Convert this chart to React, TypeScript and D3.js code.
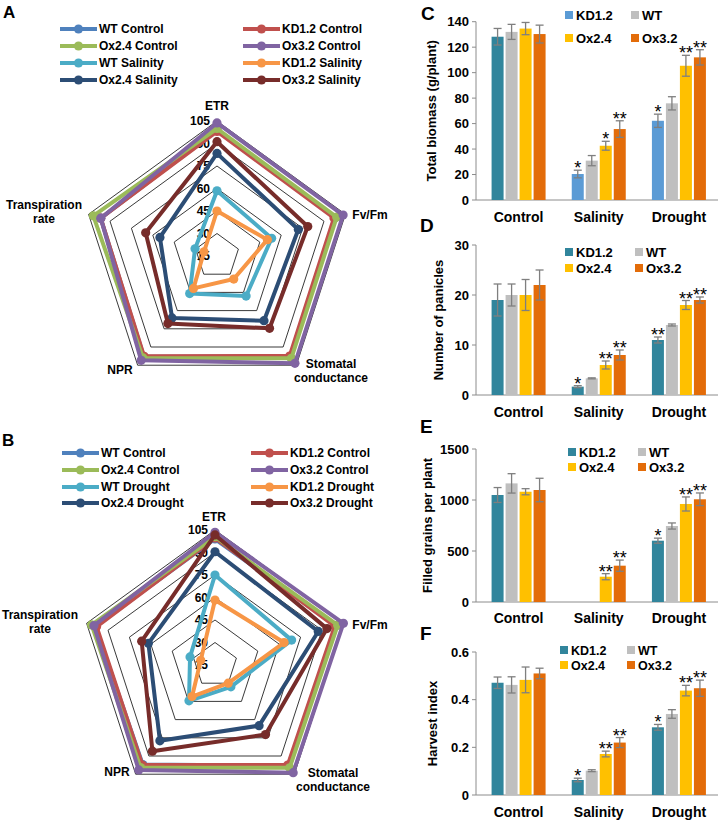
import React from 'react';
import * as d3 from 'd3';

// ---------- Radar data ----------
const radarAxes = ['ETR', 'Fv/Fm', 'Stomatal conductance', 'NPR', 'Transpiration rate'];
const radarTicks = [15, 30, 45, 60, 75, 90, 105];
const radarColors = ['#4F81BD', '#C0504D', '#9BBB59', '#8064A2', '#4BACC6', '#F79646', '#2C4D75', '#772C2A'];

const namesA = ['WT Control', 'KD1.2 Control', 'Ox2.4 Control', 'Ox3.2 Control', 'WT Salinity', 'KD1.2 Salinity', 'Ox2.4 Salinity', 'Ox3.2 Salinity'];
const aWTControl = [99, 98, 98, 98, 96.5];
const aKDControl = [98, 97, 97.4, 97.7, 96.5];
const aOx24Control = [100, 98.9, 99.3, 99, 101.7];
const aOx32Control = [103.7, 103.4, 103.4, 101, 96.5];
const aWTSalinity = [58.5, 53.3, 48, 46, 30.4];
const aKDSalinity = [45, 50.3, 34, 41.7, 24.1];
const aOx24Salinity = [83.4, 72, 68.3, 66, 55];
const aOx32Salinity = [91.2, 78.6, 74.6, 70.7, 65];

const namesB = ['WT Control', 'KD1.2 Control', 'Ox2.4 Control', 'Ox3.2 Control', 'WT Drought', 'KD1.2 Drought', 'Ox2.4 Drought', 'Ox3.2 Drought'];
const bWTControl = [99, 100, 98, 97, 99];
const bKDControl = [99.7, 99, 97.5, 97.4, 98];
const bOx24Control = [100.5, 101, 99.7, 99.5, 101.5];
const bOx32Control = [103.5, 105, 103.7, 101.5, 99.9];
const bWTDrought = [75, 68.7, 33, 44.5, 32.5];
const bKDDrought = [58.3, 63.4, 30, 41, 25];
const bOx24Drought = [90.5, 87.4, 65, 77.5, 61.7];
const bOx32Drought = [101.7, 93.5, 72.3, 86, 66.4];

// ---------- Bar data ----------
const groups = ['Control', 'Salinity', 'Drought'];
const lines = ['KD1.2', 'WT', 'Ox2.4', 'Ox3.2'];
const barColors = ['#31859C', '#BFBFBF', '#FFC000', '#E36C09'];
const kdLightColor = '#5B9BD5';

const cKD = [128.2, 20.4, 62.2];
const cKDErr = [6.5, 3, 5.2];
const cWT = [132, 30.9, 75.9];
const cWTErr = [5.9, 4, 5.2];
const cOx24 = [134.6, 42.6, 105.4];
const cOx24Err = [4.8, 3.5, 8.2];
const cOx32 = [130.3, 55.7, 112];
const cOx32Err = [7, 6.5, 6];
const cStars = [['', '*', '*'], ['', '', ''], ['', '*', '**'], ['', '**', '**']];
const cTicks = [0, 20, 40, 60, 80, 100, 120, 140];

const dKD = [19, 1.67, 11];
const dKDErr = [3.2, 0.2, 0.6];
const dWT = [20, 3.33, 14];
const dWTErr = [2.2, 0.1, 0.2];
const dOx24 = [20, 6, 18];
const dOx24Err = [3.1, 0.8, 0.9];
const dOx32 = [22, 8, 19];
const dOx32Err = [3, 1, 0.6];
const dStars = [['', '*', '**'], ['', '', ''], ['', '**', '**'], ['', '**', '**']];
const dTicks = [0, 10, 20, 30];

const eKD = [1049, 0, 601];
const eKDErr = [73, 0, 25];
const eWT = [1163, 0, 745];
const eWTErr = [95, 0, 30];
const eOx24 = [1081, 248, 961];
const eOx24Err = [30, 30, 69];
const eOx32 = [1098, 356, 1007];
const eOx32Err = [115, 55, 62];
const eStars = [['', '', '*'], ['', '', ''], ['', '**', '**'], ['', '**', '**']];
const eTicks = [0, 500, 1000, 1500];

const fKD = [0.471, 0.063, 0.284];
const fKDErr = [0.024, 0.0075, 0.012];
const fWT = [0.462, 0.102, 0.34];
const fWTErr = [0.034, 0.004, 0.018];
const fOx24 = [0.483, 0.172, 0.438];
const fOx24Err = [0.054, 0.012, 0.022];
const fOx32 = [0.51, 0.22, 0.448];
const fOx32Err = [0.022, 0.021, 0.034];
const fStars = [['', '*', '*'], ['', '', ''], ['', '**', '**'], ['', '**', '**']];
const fTicks = [0, 0.2, 0.4, 0.6];

const FONT = '"Liberation Sans", Arial, sans-serif';

type RadarProps = {
  cx: number; cy: number; series: number[][]; names: string[];
  legend: { y: number[]; lx: number[] };
  labels: { text: string[]; x: number; y: number }[];
};

function Radar({ cx, cy, series, names, legend, labels }: RadarProps) {
  const r = d3.scaleLinear().domain([15, 105]).range([0, 135]);
  const ang = (i: number) => (i * 2 * Math.PI) / radarAxes.length;
  const line = d3.lineRadial<number>().angle((_d, i) => ang(i)).radius((d) => r(d)).curve(d3.curveLinearClosed);
  const pt = (v: number, i: number) => [cx + r(v) * Math.sin(ang(i)), cy - r(v) * Math.cos(ang(i))];
  return (
    <g fontFamily={FONT} fontWeight="bold">
      {radarTicks.slice(1).map((t) => (
        <path key={t} d={line(radarAxes.map(() => t)) || ''} transform={`translate(${cx},${cy})`} fill="none" stroke="#222" strokeWidth={0.9} />
      ))}
      {radarTicks.map((t) => (
        <text key={'l' + t} x={cx - 7} y={cy - r(t)} dy="0.35em" textAnchor="end" fontSize={12} fill="#000">{t}</text>
      ))}
      {series.map((s, k) => (
        <g key={k}>
          <path d={line(s) || ''} transform={`translate(${cx},${cy})`} fill="none" stroke={radarColors[k]} strokeWidth={4} strokeLinejoin="round" />
          {s.map((v, i) => {
            const [x, y] = pt(v, i);
            return <circle key={i} cx={x} cy={y} r={4.6} fill={radarColors[k]} />;
          })}
        </g>
      ))}
      {labels.map((l, i) => (
        <text key={'a' + i} x={l.x} y={l.y} textAnchor="middle" fontSize={12} fill="#000">
          {l.text.map((tline, j) => (
            <tspan key={j} x={l.x} dy={j === 0 ? 0 : 14}>{tline}</tspan>
          ))}
        </text>
      ))}
      {names.map((n, k) => {
        const col = k % 2;
        const row = Math.floor(k / 2);
        const x0 = legend.lx[col];
        const y = legend.y[row];
        return (
          <g key={'g' + k}>
            <line x1={x0} x2={x0 + 37} y1={y} y2={y} stroke={radarColors[k]} strokeWidth={4} />
            <circle cx={x0 + 18.5} cy={y} r={4.6} fill={radarColors[k]} />
            <text x={x0 + 39} y={y} dy="0.36em" fontSize={12} fill="#000">{n}</text>
          </g>
        );
      })}
    </g>
  );
}

type BarProps = {
  y0: number; yTop: number; max: number; ticks: number[]; fmt: (v: number) => string;
  means: number[][]; errs: number[][]; stars: string[][]; title: string;
  titleX: number; catY: number; legendX: [number, number]; legendY: [number, number];
  kdColors: string[]; legendKD: string; letter: string; letterPos: [number, number];
  legendFont?: number;
};

function BarPanel(p: BarProps) {
  const axisX = 476;
  const x = d3.scaleBand<string>().domain(groups).range([478.5, 719]);
  const y = d3.scaleLinear().domain([0, p.max]).range([p.y0, p.yTop]);
  const bw = 12;
  const step = 14;
  const lf = p.legendFont || 13;
  return (
    <g fontFamily={FONT}>
      <text x={p.letterPos[0]} y={p.letterPos[1]} fontSize={19} fontWeight="bold">{p.letter}</text>
      <line x1={axisX} x2={axisX} y1={p.y0} y2={p.yTop} stroke="#8c8c8c" strokeWidth={1} />
      <line x1={axisX} x2={718} y1={p.y0} y2={p.y0} stroke="#8c8c8c" strokeWidth={1} />
      {p.ticks.map((t) => (
        <g key={t}>
          <line x1={axisX - 4} x2={axisX} y1={y(t)} y2={y(t)} stroke="#8c8c8c" />
          <text x={axisX - 7} y={y(t)} dy="0.35em" textAnchor="end" fontSize={13} fontWeight="bold">{p.fmt(t)}</text>
        </g>
      ))}
      <text transform={`translate(${p.titleX},${(p.y0 + p.yTop) / 2}) rotate(-90)`} textAnchor="middle" dy="0.35em" fontSize={13} fontWeight="bold">{p.title}</text>
      {groups.map((g) => (
        <text key={g} x={(x(g) || 0) + x.bandwidth() / 2} y={p.catY} textAnchor="middle" fontSize={14} fontWeight="bold">{g}</text>
      ))}
      {lines.map((ln, li) =>
        groups.map((g, gi) => {
          const cx = (x(g) || 0) + x.bandwidth() / 2 + (li - 1.5) * step;
          const v = p.means[li][gi];
          const e = p.errs[li][gi];
          const color = li === 0 ? p.kdColors[gi] : barColors[li];
          if (v <= 0) return null;
          const top = y(v + e);
          return (
            <g key={ln + g}>
              <rect x={cx - bw / 2} y={y(v)} width={bw} height={p.y0 - y(v)} fill={color} />
              <line x1={cx} x2={cx} y1={y(v + e)} y2={y(v - e)} stroke="#7f7f7f" strokeWidth={1.3} />
              <line x1={cx - 4} x2={cx + 4} y1={y(v + e)} y2={y(v + e)} stroke="#7f7f7f" strokeWidth={1.3} />
              <line x1={cx - 4} x2={cx + 4} y1={y(v - e)} y2={y(v - e)} stroke="#7f7f7f" strokeWidth={1.3} />
              {p.stars[li][gi] && (
                <text x={cx} y={top + 4} textAnchor="middle" fontSize={18} fill="#000">{p.stars[li][gi]}</text>
              )}
            </g>
          );
        })
      )}
      {lines.map((ln, li) => {
        const col = li % 2;
        const row = Math.floor(li / 2);
        const lx = p.legendX[col];
        const ly = p.legendY[row];
        const color = li === 0 ? p.legendKD : barColors[li];
        return (
          <g key={'lg' + ln}>
            <rect x={lx} y={ly - 4} width={8} height={8} fill={color} />
            <text x={lx + 11} y={ly} dy="0.36em" fontSize={lf} fontWeight="bold">{ln}</text>
          </g>
        );
      })}
    </g>
  );
}

export default function App() {
  const seriesA = [aWTControl, aKDControl, aOx24Control, aOx32Control, aWTSalinity, aKDSalinity, aOx24Salinity, aOx32Salinity];
  const seriesB = [bWTControl, bKDControl, bOx24Control, bOx32Control, bWTDrought, bKDDrought, bOx24Drought, bOx32Drought];
  return (
    <svg width={722} height={820} style={{ position: 'absolute', left: 0, top: 0, background: '#fff' }}>
      <rect width={722} height={820} fill="#fff" />
      <text x={3} y={18} fontFamily={FONT} fontWeight="bold" fontSize={17}>A</text>
      <text x={2} y={446} fontFamily={FONT} fontWeight="bold" fontSize={17}>B</text>
      <Radar
        cx={217} cy={256} series={seriesA} names={namesA}
        legend={{ y: [29, 46, 63, 80], lx: [60, 243] }}
        labels={[
          { text: ['ETR'], x: 217, y: 110 },
          { text: ['Fv/Fm'], x: 370, y: 219 },
          { text: ['Stomatal', 'conductance'], x: 331, y: 368 },
          { text: ['NPR'], x: 120, y: 374 },
          { text: ['Transpiration', 'rate'], x: 44, y: 209 },
        ]}
      />
      <Radar
        cx={215} cy={665} series={seriesB} names={namesB}
        legend={{ y: [453, 470, 487, 503], lx: [62, 251] }}
        labels={[
          { text: ['ETR'], x: 214, y: 521 },
          { text: ['Fv/Fm'], x: 370, y: 629 },
          { text: ['Stomatal', 'conductance'], x: 333, y: 777 },
          { text: ['NPR'], x: 117, y: 776 },
          { text: ['Transpiration', 'rate'], x: 40, y: 619 },
        ]}
      />
      <BarPanel
        y0={200} yTop={21.7} max={140} ticks={cTicks} fmt={(v) => String(v)}
        means={[cKD, cWT, cOx24, cOx32]} errs={[cKDErr, cWTErr, cOx24Err, cOx32Err]} stars={cStars}
        title="Total biomass (g/plant)" titleX={431} catY={222}
        legendX={[565, 631]} legendY={[15, 38]}
        kdColors={[barColors[0], kdLightColor, kdLightColor]} legendKD={kdLightColor}
        letter="C" letterPos={[421, 20]}
      />
      <BarPanel
        y0={395} yTop={245} max={30} ticks={dTicks} fmt={(v) => String(v)}
        means={[dKD, dWT, dOx24, dOx32]} errs={[dKDErr, dWTErr, dOx24Err, dOx32Err]} stars={dStars}
        title="Number of panicles" titleX={438} catY={417}
        legendX={[565, 635]} legendY={[252, 268]}
        kdColors={[barColors[0], barColors[0], barColors[0]]} legendKD={barColors[0]}
        letter="D" letterPos={[420, 232]}
      />
      <BarPanel
        y0={602} yTop={449} max={1500} ticks={eTicks} fmt={(v) => String(v)}
        means={[eKD, eWT, eOx24, eOx32]} errs={[eKDErr, eWTErr, eOx24Err, eOx32Err]} stars={eStars}
        title="Filled grains per plant" titleX={427} catY={623}
        legendX={[568, 638]} legendY={[452, 467]}
        kdColors={[barColors[0], barColors[0], barColors[0]]} legendKD={barColors[0]}
        letter="E" letterPos={[420, 433]}
      />
      <BarPanel
        y0={795} yTop={652} max={0.6} ticks={fTicks} fmt={(v) => (v === 0 ? '0' : v.toFixed(1))}
        means={[fKD, fWT, fOx24, fOx32]} errs={[fKDErr, fWTErr, fOx24Err, fOx32Err]} stars={fStars}
        title="Harvest index" titleX={432} catY={817}
        legendX={[560, 627]} legendY={[650, 665]} legendFont={12.5}
        kdColors={[barColors[0], barColors[0], barColors[0]]} legendKD={barColors[0]}
        letter="F" letterPos={[420, 640]}
      />
    </svg>
  );
}
